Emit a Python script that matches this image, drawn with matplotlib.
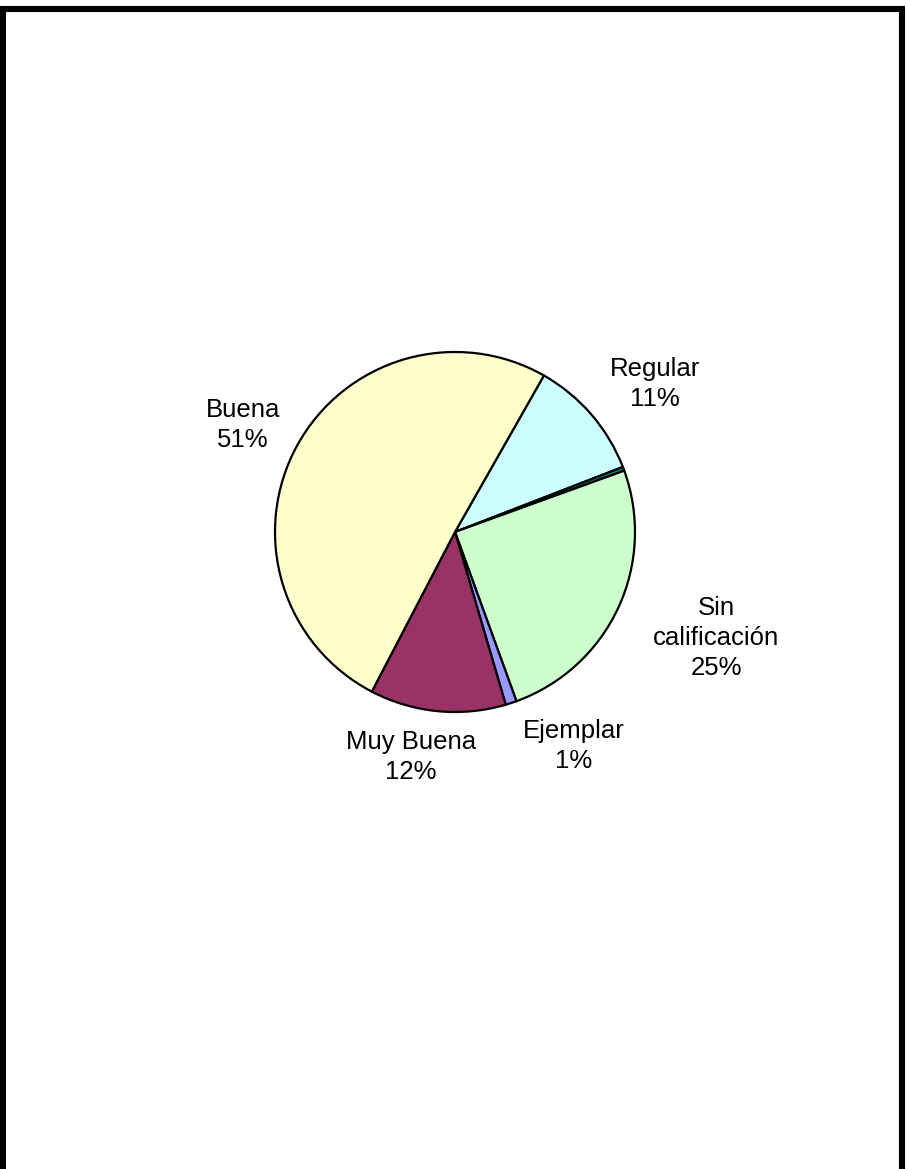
import matplotlib
matplotlib.use("Agg")
import matplotlib.pyplot as plt
from matplotlib.patches import Rectangle

plt.rcParams["font.family"] = ["Liberation Sans", "DejaVu Sans"]

# data (percent of total)
categories = ["Regular", "", "Sin\ncalificación", "Ejemplar", "Muy Buena", "Buena"]
values = [10.9, 0.35, 25.0, 1.0, 12.2, 50.6]
colors = ["#CCFFFF", "#008080", "#CCFFCC", "#9999FF", "#993366", "#FFFFCC"]

W, H = 906, 1169
fig = plt.figure(figsize=(W / 100, H / 100), dpi=100)
ax = fig.add_axes([0, 0, 1, 1])

# pixel-like coordinates, y going up
cx, cy, r = 455, H - 532, 180
wedges, _ = ax.pie(values, colors=colors, startangle=60.4, counterclock=False,
                   center=(cx, cy), radius=r,
                   wedgeprops=dict(edgecolor="black", linewidth=1.6))
ax.set_xlim(0, W)
ax.set_ylim(0, H)
ax.set_aspect("auto")
ax.axis("off")

# label positions (pixel centres from the reference)
label_pos = [(655, 384), None, (716, 638), (574, 746), (411, 757), (243, 425)]
total = sum(values)
for name, v, pos in zip(categories, values, label_pos):
    if pos is None or not name:
        continue
    ax.text(pos[0], H - pos[1], f"{name}\n{round(v / total * 100):.0f}%",
            ha="center", va="center", fontsize=18.5, linespacing=1.32)

# page border
ax.add_patch(Rectangle((3, -40), 899, H - 9 + 40, fill=False,
                       edgecolor="black", linewidth=4.4))

fig.savefig("out.png", dpi=100, facecolor="white")
